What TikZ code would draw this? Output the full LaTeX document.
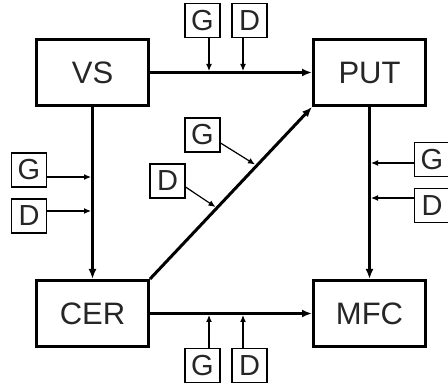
\documentclass[tikz,border=0pt]{standalone}
\usepackage{fontspec}
\setmainfont{Liberation Sans}
\usetikzlibrary{arrows.meta,calc}
\tikzset{
  bigbox/.style={draw, line width=3pt, minimum width=112pt, minimum height=66pt, inner sep=0pt,
    font=\fontsize{31}{34}\selectfont, text=black!85},
  smallbox/.style={draw, line width=1.1pt, minimum width=35pt, minimum height=34pt, inner sep=0pt,
    font=\fontsize{29}{32}\selectfont, text=black!85},
  mainarr/.style={line width=3pt, -{Latex[length=10pt,width=8pt]}},
  smallarr/.style={line width=1.2pt, -{Latex[length=7pt,width=6pt]}}
}
\begin{document}
\begin{tikzpicture}[x=1pt,y=-1pt]
\useasboundingbox (0,0) rectangle (448,387);
% main boxes
\node[bigbox] (VS)  at (92.5,72.5)  {VS};
\node[bigbox] (PUT) at (369.5,72.5) {PUT};
\node[bigbox] (CER) at (92.5,313.5) {CER};
\node[bigbox] (MFC) at (369.5,313.5) {MFC};
% main connectors
\draw[mainarr] (VS.east) -- (PUT.west);
\draw[mainarr] (VS.south) -- (CER.north);
\draw[mainarr] (PUT.south) -- (MFC.north);
\draw[mainarr] (CER.east) -- (MFC.west);
\draw[mainarr] (CER.north east) -- (PUT.south west);
% top G D
\node[smallbox] (gt) at (202.5,20.5) {G};
\node[smallbox] (dt) at (249.5,20.5) {D};
\coordinate (tg) at (209,71);
\coordinate (td) at (243,71);
\draw[smallarr] (gt.south -| tg) -- (tg);
\draw[smallarr] (dt.south -| td) -- (td);
% left G D
\node[smallbox] (gl) at (29,170) {G};
\node[smallbox] (dl) at (29,216) {D};
\coordinate (lg) at (91,177);
\coordinate (ld) at (91,211);
\draw[smallarr] (gl.east |- lg) -- (lg);
\draw[smallarr] (dl.east |- ld) -- (ld);
% right G D
\node[smallbox] (gr) at (432,159.5) {G};
\node[smallbox] (dr) at (432,205.5) {D};
\coordinate (rg) at (371,163);
\coordinate (rd) at (371,198);
\draw[smallarr] (gr.west |- rg) -- (rg);
\draw[smallarr] (dr.west |- rd) -- (rd);
% diagonal G D
\node[smallbox] (gd) at (202.5,135) {G};
\node[smallbox] (dd) at (167.5,181) {D};
\coordinate (dg) at (255,164.5);
\coordinate (ddd) at (215.5,207);
\draw[smallarr] ($(gd.east)+(0,8)$) -- (dg);
\draw[smallarr] ($(dd.east)+(0,6)$) -- (ddd);
% bottom G D
\node[smallbox] (gb) at (202.5,365.5) {G};
\node[smallbox] (db) at (249.5,365.5) {D};
\coordinate (bg) at (209,315);
\coordinate (bd) at (243,315);
\draw[smallarr] (gb.north -| bg) -- (bg);
\draw[smallarr] (db.north -| bd) -- (bd);
\end{tikzpicture}
\end{document}
